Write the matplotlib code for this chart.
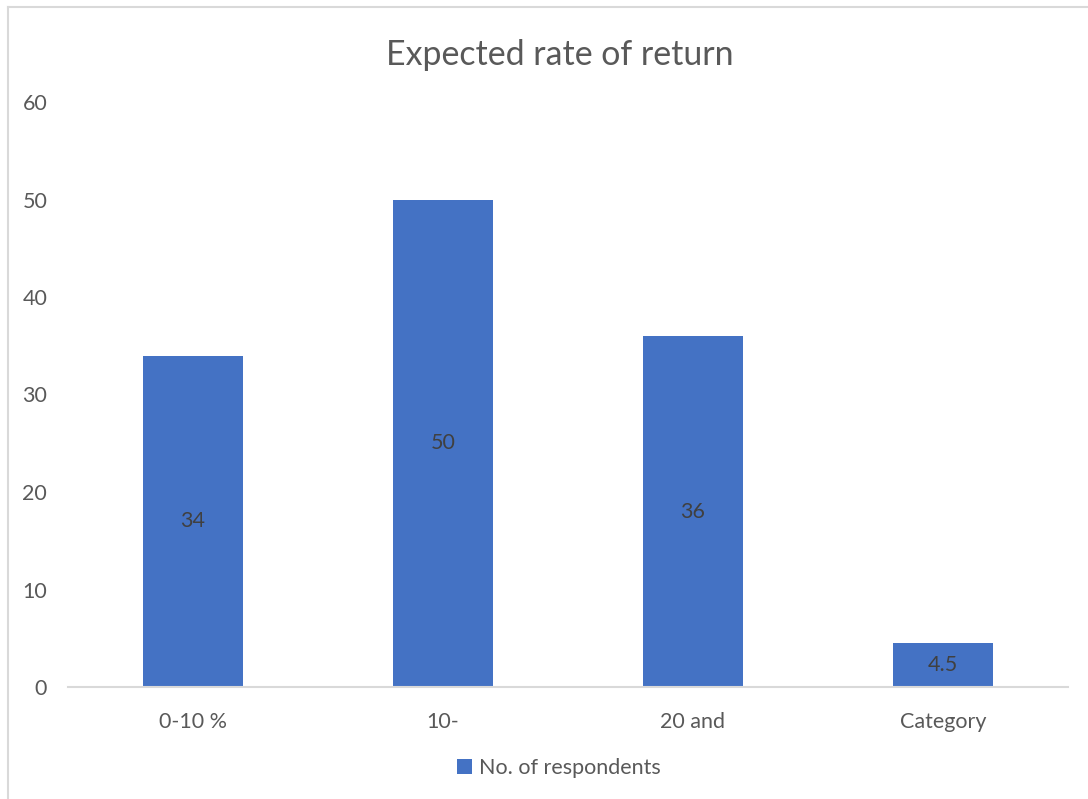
import matplotlib.pyplot as plt
from matplotlib.lines import Line2D

categories = ["0-10 %", "10-", "20 and", "Category"]
respondents = [34, 50, 36, 4.5]
value_labels = ["34", "50", "36", "4.5"]
y_ticks = [0, 10, 20, 30, 40, 50, 60]

bar_color = "#4472C4"
grey_text = "#595959"
label_text = "#404040"
rule_color = "#D9D9D9"

plt.rcParams["font.family"] = ["Lato", "DejaVu Sans"]

fig = plt.figure(figsize=(10.88, 7.99), dpi=100)
ax = fig.add_axes([68 / 1088, 1 - 687 / 799, 1000 / 1088, 585 / 799])

x = range(len(categories))
bars = ax.bar(x, respondents, width=0.4, color=bar_color, label="No. of respondents", zorder=2)

# value labels sit in the middle of each bar
for b, txt in zip(bars, value_labels):
    ax.text(b.get_x() + b.get_width() / 2, b.get_height() / 2, txt,
            ha="center", va="center", fontsize=15.5, color=label_text, zorder=3)

ax.set_xlim(-0.5, 3.5)
ax.set_ylim(0, 60)
ax.set_yticks(y_ticks)
ax.set_xticks(list(x))
ax.set_xticklabels(categories)
ax.tick_params(axis="both", length=0, labelsize=15.5, colors=grey_text)
ax.tick_params(axis="y", pad=15)
ax.tick_params(axis="x", pad=18)

for side in ["top", "right", "left"]:
    ax.spines[side].set_visible(False)
ax.spines["bottom"].set_color(rule_color)
ax.spines["bottom"].set_linewidth(1.5)

fig.text(560 / 1088, 1 - 55 / 799, "Expected rate of return",
         ha="center", va="center", fontsize=24.4, color=grey_text)

fig.legend(handles=[bars], labels=["No. of respondents"], loc="center",
           bbox_to_anchor=(559 / 1088, 1 - 768 / 799), frameon=False,
           fontsize=15.5, labelcolor=grey_text, handlelength=0.7, handleheight=0.7,
           handletextpad=0.35)

# chart area frame along the left and top edges
fig.add_artist(Line2D([8 / 1088, 8 / 1088], [0, 1 - 7 / 799], transform=fig.transFigure,
                      color=rule_color, linewidth=1.5))
fig.add_artist(Line2D([8 / 1088, 1], [1 - 7 / 799, 1 - 7 / 799], transform=fig.transFigure,
                      color=rule_color, linewidth=1.5))

fig.savefig("out.png", dpi=100)
